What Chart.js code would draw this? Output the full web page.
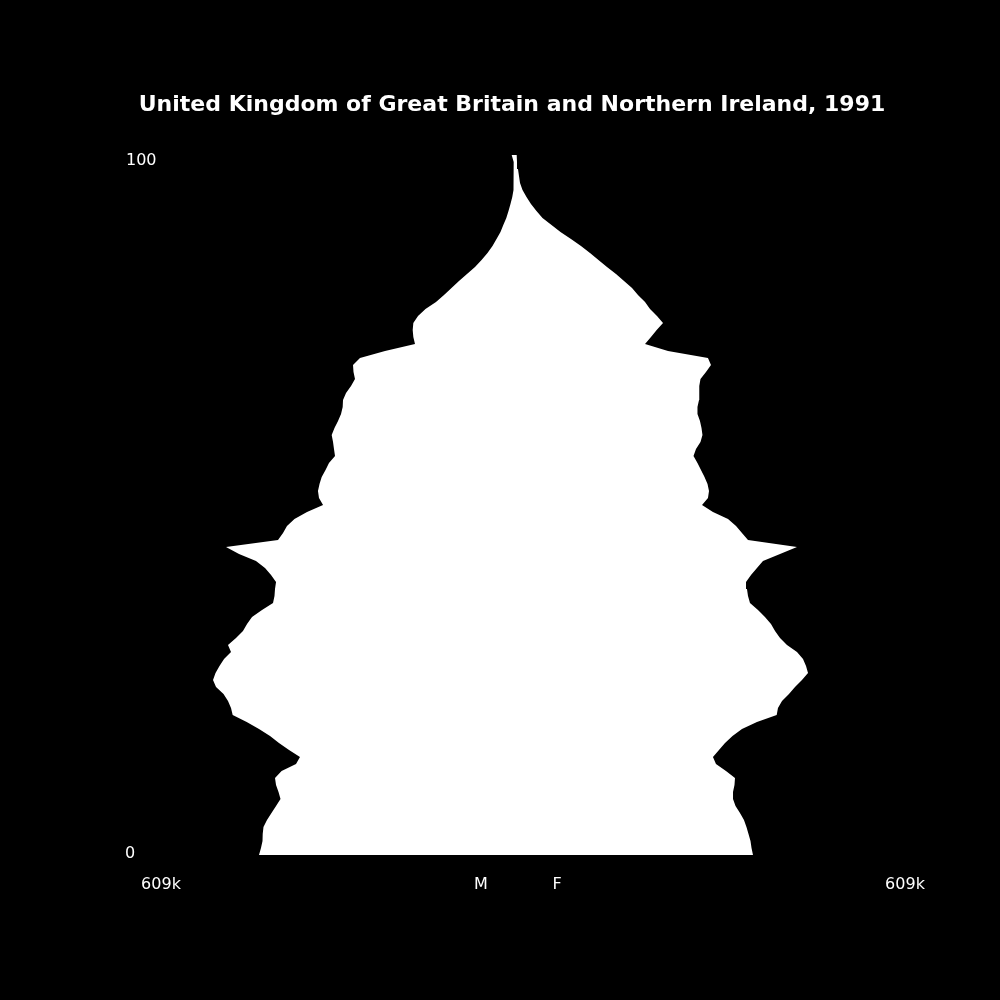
<!DOCTYPE html>
<html>
<head>
<meta charset="utf-8">
<script src="https://cdn.jsdelivr.net/npm/chart.js@4"></script>
<style>
  html, body { margin: 0; padding: 0; background: #000; }
  #wrap { width: 1000px; height: 1000px; position: relative; }
</style>
</head>
<body>
<div id="wrap"><canvas id="pyramid" width="1000" height="1000"></canvas></div>
<script>
// United Kingdom, 1991 - population by single year of age (thousands)
const ages = Array.from({ length: 101 }, (_, i) => i);

const male = [
    398.2, 395.1, 392.7, 392.4, 391.2, 385.7, 378.7, 371.6, 364.6, 367.7,
    371.6, 373.2, 362.9, 340.4, 334.2, 351.3, 367.0, 381.0, 398.2, 417.4,
    439.3, 441.9, 446.6, 453.6, 465.3, 470.0, 466.1, 459.9, 452.8, 441.9,
    446.6, 434.1, 423.2, 416.9, 409.1, 393.5, 376.3, 374.0, 373.2, 371.6,
    379.4, 388.8, 402.9, 429.4, 449.7, 368.5, 360.7, 354.5, 342.8, 323.2,
    298.2, 304.5, 306.1, 303.7, 300.3, 294.3, 288.9, 279.5, 281.1, 282.6,
    284.7, 280.3, 274.8, 270.1, 267.5, 267.0, 262.3, 254.5, 248.3, 250.6,
    251.4, 240.5, 201.4, 154.6, 157.2, 158.2, 157.2, 149.9, 138.2, 121.8,
    109.3, 97.6, 85.9, 73.4, 60.9, 50.7, 41.4, 33.6, 27.3, 21.1,
    16.7, 12.0, 8.6, 5.5, 2.7, 1.2, 0.8, 0.6, 0.5, 0.5,
    3.6
];

const female = [
    373.2, 370.9, 369.3, 366.2, 363.0, 359.1, 352.9, 345.9, 342.0, 342.0,
    344.3, 345.1, 331.0, 315.4, 310.7, 320.1, 329.5, 341.2, 356.0, 379.4,
    410.2, 412.2, 418.5, 429.4, 438.8, 449.7, 459.1, 456.0, 451.3, 441.9,
    426.3, 415.4, 407.6, 401.3, 391.9, 381.0, 368.5, 365.4, 363.8, 362.3,
    370.1, 379.4, 388.8, 415.4, 441.9, 365.4, 356.0, 346.7, 334.2, 310.7,
    293.6, 302.9, 304.5, 302.2, 297.5, 292.0, 286.5, 280.3, 284.2, 291.2,
    294.3, 292.8, 290.4, 286.5, 286.5, 288.9, 288.9, 289.7, 291.2, 299.8,
    307.6, 302.9, 240.5, 204.6, 213.9, 222.8, 232.7, 223.3, 212.4, 204.6,
    193.6, 184.3, 171.8, 159.3, 145.2, 131.9, 118.7, 104.6, 89.0, 72.6,
    58.6, 44.5, 35.1, 26.5, 19.5, 13.3, 9.4, 7.8, 6.2, 4.7,
    4.2
];

// axis labels
const xMax = 609;
const xTickLabels = ['609k', 'M', 'F', '609k'];
const yTickLabels = ['0', '100'];
const chartTitle = 'United Kingdom of Great Britain and Northern Ireland, 1991';

// text drawn on top of the plot
const labelPlugin = {
    id: 'pyramidLabels',
    afterDraw(chart) {
        const ctx = chart.ctx;
        ctx.save();
        ctx.fillStyle = '#ffffff';
        ctx.textBaseline = 'middle';

        ctx.font = 'bold 22px "DejaVu Sans"';
        ctx.textAlign = 'center';
        ctx.fillText(chartTitle, 512, 105);

        ctx.font = '16px "DejaVu Sans"';
        ctx.textAlign = 'left';
        ctx.fillText(yTickLabels[1], 126, 161);
        ctx.fillText(yTickLabels[0], 125, 854);

        ctx.textAlign = 'center';
        const xs = [161, 481, 557, 905];
        xTickLabels.forEach((t, i) => ctx.fillText(t, xs[i], 885));
        ctx.restore();
    }
};

const ctx = document.getElementById('pyramid').getContext('2d');

new Chart(ctx, {
    type: 'line',
    data: {
        labels: ages,
        datasets: [
            {
                label: 'M',
                data: ages.map((a, i) => ({ x: -male[i], y: a })),
                borderColor: 'rgba(0,0,0,0)',
                borderWidth: 0,
                pointRadius: 0,
                fill: false,
                tension: 0
            },
            {
                label: 'F',
                data: ages.map((a, i) => ({ x: female[i], y: a })),
                borderColor: 'rgba(0,0,0,0)',
                backgroundColor: '#ffffff',
                borderWidth: 0,
                pointRadius: 0,
                fill: '-1',
                tension: 0
            }
        ]
    },
    options: {
        indexAxis: 'y',
        responsive: false,
        devicePixelRatio: 1,
        animation: false,
        layout: {
            padding: { left: 124, right: 96, top: 155, bottom: 145 }
        },
        scales: {
            x: { type: 'linear', min: -xMax, max: xMax, display: false },
            y: { type: 'linear', min: 0, max: 100, display: false }
        },
        plugins: {
            legend: { display: false },
            title: { display: false },
            tooltip: { enabled: false }
        }
    },
    plugins: [labelPlugin]
});
</script>
</body>
</html>
